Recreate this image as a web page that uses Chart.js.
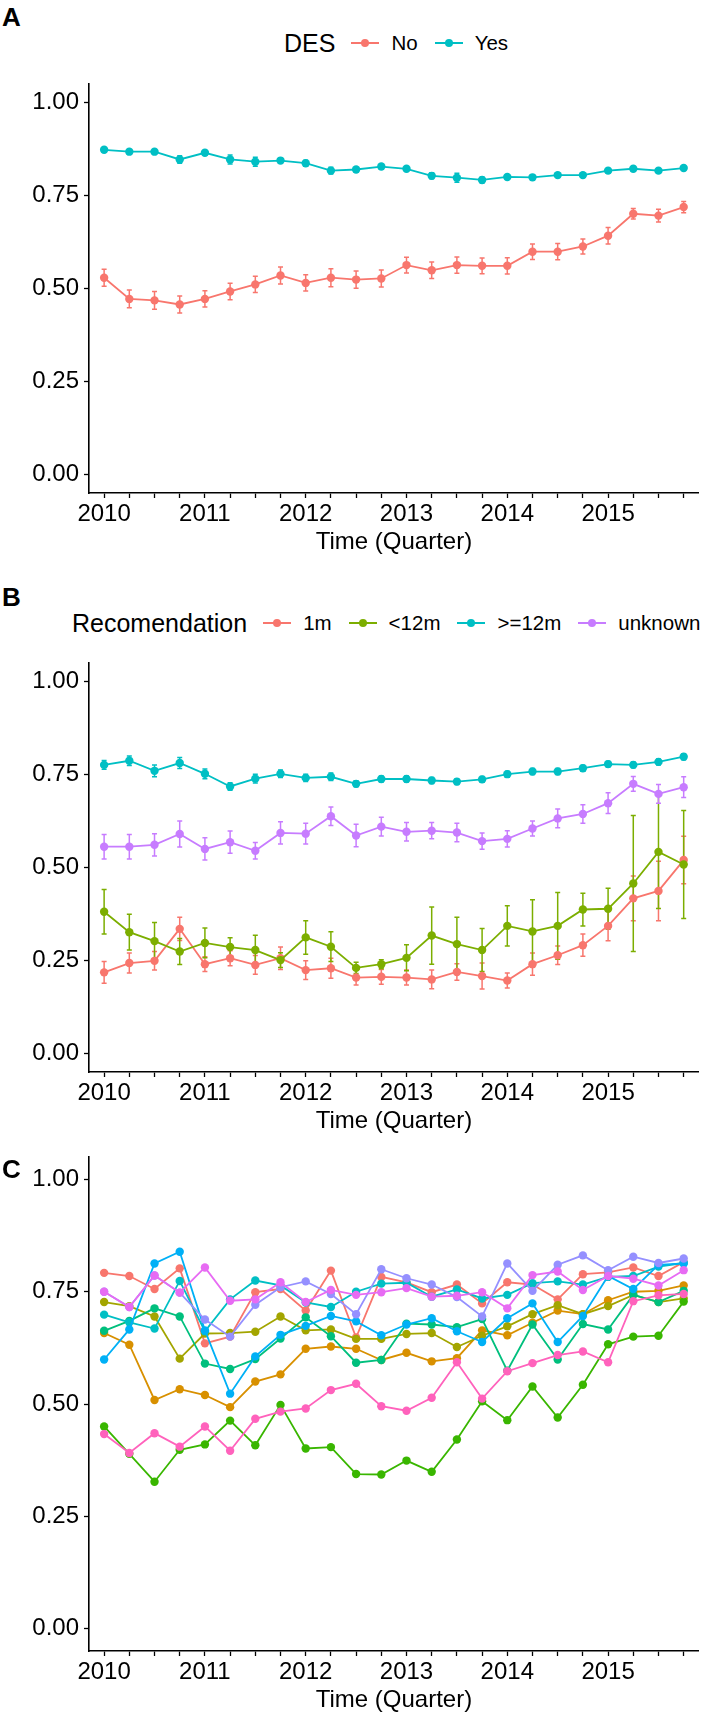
<!DOCTYPE html>
<html>
<head>
<meta charset="utf-8">
<script src="https://cdn.jsdelivr.net/npm/chart.js@4.4.1/dist/chart.umd.min.js"></script>
<style>
  body { margin: 0; background: #fff; font-family: "Liberation Sans", Arial, sans-serif; }
  #page { position: relative; width: 703px; height: 1715px; overflow: hidden; }
  canvas { position: absolute; left: 0; }
  .tag { position: absolute; left: 2px; font-weight: bold; font-size: 26px; line-height: 26px; }
  .legend { position: absolute; display: flex; align-items: center; white-space: nowrap; height: 28px; width: max-content; }
  .legend > span { flex: none; }
  .legend .ttl { font-size: 25px; margin-right: 16px; }
  .legend .key { position: relative; width: 28px; height: 20px; margin-right: 12px; }
  .legend .key i { position: absolute; left: 0; right: 0; top: 9px; height: 2px; }
  .legend .key b { position: absolute; left: 10px; top: 6px; width: 8px; height: 8px; border-radius: 50%; }
  .legend .lab { font-size: 20.5px; margin-right: 17px; }
</style>
</head>
<body>
<div id="page">
  <div class="tag" style="top:4px">A</div>
  <div class="legend" id="legA" style="left:284px;top:29px"></div>
  <canvas id="chartA" width="703" height="579" style="top:0"></canvas>

  <div class="tag" style="top:584px">B</div>
  <div class="legend" id="legB" style="left:72px;top:609px"></div>
  <canvas id="chartB" width="703" height="579" style="top:579px"></canvas>

  <div class="tag" style="top:1156px">C</div>
  <canvas id="chartC" width="703" height="585" style="top:1130px"></canvas>
</div>

<script>
// quarters on the x axis (2010 Q1 .. 2015 Q4)
const quarters = ['2010 Q1', '2010 Q2', '2010 Q3', '2010 Q4', '2011 Q1', '2011 Q2', '2011 Q3', '2011 Q4',
  '2012 Q1', '2012 Q2', '2012 Q3', '2012 Q4', '2013 Q1', '2013 Q2', '2013 Q3', '2013 Q4',
  '2014 Q1', '2014 Q2', '2014 Q3', '2014 Q4', '2015 Q1', '2015 Q2', '2015 Q3', '2015 Q4'];
const xTickLabels = ['2010', '', '', '', '2011', '', '', '', '2012', '', '', '', '2013', '', '', '',
  '2014', '', '', '', '2015', '', '', ''];
const yTicks = [0, 0.25, 0.5, 0.75, 1];

// panel A: DES
const desNames = ['No', 'Yes'];
const desColors = ['#F8766D', '#00BFC4'];
const desNo = [0.529, 0.472, 0.468, 0.457, 0.472, 0.492, 0.511, 0.535, 0.515, 0.529, 0.524, 0.527,
  0.563, 0.549, 0.563, 0.561, 0.561, 0.599, 0.599, 0.613, 0.642, 0.701, 0.696, 0.719];
const desNoErr = [0.023, 0.024, 0.024, 0.023, 0.022, 0.022, 0.022, 0.023, 0.022, 0.024, 0.023, 0.023,
  0.021, 0.022, 0.022, 0.021, 0.022, 0.021, 0.022, 0.020, 0.022, 0.014, 0.017, 0.015];
const desYes = [0.873, 0.868, 0.868, 0.847, 0.865, 0.847, 0.841, 0.844, 0.837, 0.817, 0.820, 0.828,
  0.822, 0.803, 0.798, 0.792, 0.800, 0.799, 0.805, 0.805, 0.817, 0.822, 0.817, 0.824];
const desYesErr = [0.006, 0.006, 0.006, 0.010, 0.006, 0.012, 0.012, 0.006, 0.008, 0.009, 0.006, 0.006,
  0.006, 0.008, 0.012, 0.008, 0.006, 0.006, 0.006, 0.006, 0.006, 0.006, 0.006, 0.006];

// panel B: Recomendation
const recNames = ['1m', '<12m', '>=12m', 'unknown'];
const recColors = ['#F8766D', '#7CAE00', '#00BFC4', '#C77CFF'];
const rec1m = [0.218, 0.243, 0.249, 0.335, 0.240, 0.256, 0.238, 0.256, 0.224, 0.229, 0.204, 0.206,
  0.204, 0.199, 0.219, 0.208, 0.196, 0.240, 0.264, 0.291, 0.343, 0.417, 0.437, 0.520];
const rec1mErr = [0.029, 0.027, 0.025, 0.031, 0.020, 0.020, 0.025, 0.030, 0.025, 0.027, 0.020, 0.020,
  0.020, 0.025, 0.022, 0.035, 0.020, 0.030, 0.025, 0.030, 0.040, 0.060, 0.080, 0.064];
const recLt12 = [0.381, 0.326, 0.302, 0.274, 0.297, 0.286, 0.278, 0.251, 0.312, 0.287, 0.230, 0.240,
  0.257, 0.317, 0.294, 0.278, 0.343, 0.328, 0.343, 0.387, 0.389, 0.457, 0.542, 0.508];
const recLt12Err = [0.060, 0.048, 0.050, 0.035, 0.040, 0.025, 0.040, 0.020, 0.045, 0.040, 0.015, 0.012,
  0.035, 0.077, 0.072, 0.058, 0.054, 0.085, 0.090, 0.044, 0.055, 0.183, 0.152, 0.145];
const recGe12 = [0.776, 0.787, 0.760, 0.781, 0.752, 0.718, 0.739, 0.752, 0.741, 0.744, 0.725, 0.738,
  0.738, 0.734, 0.731, 0.737, 0.751, 0.758, 0.758, 0.767, 0.778, 0.776, 0.784, 0.798];
const recGe12Err = [0.012, 0.013, 0.016, 0.015, 0.013, 0.010, 0.012, 0.010, 0.010, 0.010, 0.008, 0.008,
  0.008, 0.008, 0.008, 0.008, 0.008, 0.008, 0.008, 0.008, 0.008, 0.008, 0.008, 0.008];
const recUnknown = [0.556, 0.556, 0.561, 0.590, 0.550, 0.568, 0.545, 0.593, 0.591, 0.638, 0.586, 0.610,
  0.596, 0.599, 0.594, 0.571, 0.577, 0.605, 0.632, 0.644, 0.673, 0.725, 0.698, 0.716];
const recUnknownErr = [0.033, 0.033, 0.030, 0.035, 0.030, 0.030, 0.022, 0.030, 0.028, 0.025, 0.030, 0.025,
  0.025, 0.022, 0.025, 0.022, 0.022, 0.020, 0.025, 0.025, 0.028, 0.020, 0.025, 0.028];

// panel C: ten groups, no legend
const grpColors = ['#F8766D', '#D89000', '#A3A500', '#39B600', '#00BF7D', '#00BFC4', '#00B0F6', '#9590FF', '#E76BF3', '#FF62BC'];
const grp1 = [0.792, 0.785, 0.756, 0.802, 0.635, 0.650, 0.749, 0.756, 0.708, 0.797, 0.648, 0.783,
  0.771, 0.749, 0.766, 0.724, 0.771, 0.766, 0.733, 0.789, 0.793, 0.804, 0.785, 0.816];
const grp2 = [0.658, 0.632, 0.509, 0.533, 0.520, 0.493, 0.550, 0.566, 0.623, 0.628, 0.623, 0.598,
  0.614, 0.595, 0.602, 0.664, 0.653, 0.681, 0.708, 0.700, 0.731, 0.750, 0.752, 0.764];
const grp3 = [0.727, 0.718, 0.695, 0.601, 0.657, 0.658, 0.661, 0.695, 0.664, 0.666, 0.645, 0.645,
  0.656, 0.658, 0.627, 0.652, 0.673, 0.700, 0.720, 0.700, 0.718, 0.743, 0.727, 0.735];
const grp4 = [0.450, 0.389, 0.327, 0.398, 0.410, 0.463, 0.408, 0.498, 0.401, 0.404, 0.344, 0.343,
  0.374, 0.349, 0.421, 0.506, 0.464, 0.539, 0.470, 0.543, 0.633, 0.650, 0.652, 0.728];
const grp5 = [0.663, 0.685, 0.713, 0.695, 0.590, 0.578, 0.600, 0.646, 0.693, 0.651, 0.592, 0.598,
  0.679, 0.677, 0.671, 0.689, 0.574, 0.677, 0.599, 0.678, 0.666, 0.743, 0.727, 0.752];
const grp6 = [0.699, 0.682, 0.668, 0.774, 0.662, 0.733, 0.775, 0.764, 0.726, 0.716, 0.750, 0.768,
  0.770, 0.739, 0.755, 0.735, 0.743, 0.769, 0.773, 0.766, 0.783, 0.785, 0.806, 0.814];
const grp7 = [0.599, 0.666, 0.813, 0.839, 0.664, 0.523, 0.606, 0.654, 0.674, 0.696, 0.684, 0.653,
  0.677, 0.691, 0.662, 0.638, 0.691, 0.724, 0.638, 0.696, 0.785, 0.756, 0.810, 0.813];
const grp8 = [0.750, 0.716, 0.786, 0.748, 0.688, 0.650, 0.721, 0.760, 0.773, 0.745, 0.700, 0.800,
  0.780, 0.766, 0.738, 0.695, 0.813, 0.752, 0.810, 0.831, 0.798, 0.828, 0.814, 0.824];
const grp9 = [0.750, 0.716, 0.786, 0.748, 0.804, 0.730, 0.733, 0.771, 0.727, 0.754, 0.743, 0.749,
  0.758, 0.739, 0.741, 0.749, 0.713, 0.787, 0.795, 0.754, 0.785, 0.779, 0.764, 0.798];
const grp10 = [0.433, 0.391, 0.435, 0.405, 0.450, 0.396, 0.467, 0.483, 0.490, 0.531, 0.545, 0.495,
  0.485, 0.514, 0.593, 0.512, 0.573, 0.591, 0.609, 0.617, 0.593, 0.729, 0.742, 0.745];

const FONT = '"Liberation Sans", Arial, sans-serif';
Chart.defaults.font.family = FONT;
Chart.defaults.color = '#000';

// vertical error bars, drawn under the lines and points
const errorBars = {
  id: 'errorBars',
  beforeDatasetsDraw(chart) {
    const ctx = chart.ctx;
    const xs = chart.scales.x, ys = chart.scales.y;
    chart.data.datasets.forEach(ds => {
      if (!ds.errors) return;
      ctx.save();
      ctx.strokeStyle = ds.borderColor;
      ctx.lineWidth = 1.5;
      ds.data.forEach((p, i) => {
        const px = xs.getPixelForValue(p.x);
        const lo = ys.getPixelForValue(p.y - ds.errors[i]);
        const hi = ys.getPixelForValue(p.y + ds.errors[i]);
        ctx.beginPath();
        ctx.moveTo(px, lo); ctx.lineTo(px, hi);
        ctx.moveTo(px - 2.5, lo); ctx.lineTo(px + 2.5, lo);
        ctx.moveTo(px - 2.5, hi); ctx.lineTo(px + 2.5, hi);
        ctx.stroke();
      });
      ctx.restore();
    });
  }
};

function toPoints(values) {
  return values.map((v, i) => ({ x: i, y: v }));
}

function makeChart(id, series, plotTop, xAxisHeight, titlePad) {
  const datasets = series.map((s, i) => ({
    label: s.name,
    data: toPoints(s.values),
    errors: s.errors || null,
    borderColor: s.color,
    backgroundColor: s.color,
    pointBackgroundColor: s.color,
    pointBorderWidth: 0,
    pointRadius: 4.2,
    borderWidth: 1.8,
    tension: 0,
    order: -i   // later groups on top, like ggplot
  }));

  const axisGrid = { display: true, drawOnChartArea: false, drawTicks: true, tickLength: 5, tickColor: '#000', tickWidth: 1.3 };
  const axisBorder = { display: true, color: '#000', width: 1.6 };

  return new Chart(document.getElementById(id), {
    type: 'line',
    data: { datasets: datasets },
    plugins: [errorBars],
    options: {
      responsive: false,
      animation: false,
      devicePixelRatio: 1,
      layout: { padding: { top: plotTop, left: 0, right: 0, bottom: 0 } },
      plugins: { legend: { display: false }, tooltip: { enabled: false } },
      scales: {
        x: {
          type: 'linear',
          min: -0.6,
          max: quarters.length - 0.4,
          afterBuildTicks: scale => { scale.ticks = quarters.map((q, i) => ({ value: i })); },
          afterFit: scale => { scale.height = xAxisHeight; },
          ticks: {
            autoSkip: false, maxRotation: 0, padding: 2, color: '#000',
            font: { size: 24 },
            callback: value => xTickLabels[value]
          },
          grid: axisGrid,
          border: axisBorder,
          title: {
            display: true, text: 'Time (Quarter)', color: '#000',
            font: { size: 24 }, padding: { top: 0, bottom: titlePad }
          }
        },
        y: {
          min: -0.05,
          max: 1.05,
          afterBuildTicks: scale => { scale.ticks = yTicks.map(v => ({ value: v })); },
          afterFit: scale => { scale.width = 89; },
          ticks: {
            padding: 5, color: '#000', font: { size: 24 },
            callback: value => value.toFixed(2)
          },
          grid: axisGrid,
          border: axisBorder
        }
      }
    }
  });
}

function makeLegend(id, title, names, colors) {
  const box = document.getElementById(id);
  const t = document.createElement('span');
  t.className = 'ttl';
  t.textContent = title;
  box.appendChild(t);
  names.forEach((n, i) => {
    const key = document.createElement('span');
    key.className = 'key';
    key.innerHTML = '<i style="background:' + colors[i] + '"></i><b style="background:' + colors[i] + '"></b>';
    const lab = document.createElement('span');
    lab.className = 'lab';
    lab.textContent = n;
    box.appendChild(key);
    box.appendChild(lab);
  });
}

makeLegend('legA', 'DES', desNames, desColors);
makeLegend('legB', 'Recomendation', recNames, recColors);

makeChart('chartA', [
  { name: desNames[0], values: desNo, errors: desNoErr, color: desColors[0] },
  { name: desNames[1], values: desYes, errors: desYesErr, color: desColors[1] }
], 84, 86, 22);

makeChart('chartB', [
  { name: recNames[0], values: rec1m, errors: rec1mErr, color: recColors[0] },
  { name: recNames[1], values: recLt12, errors: recLt12Err, color: recColors[1] },
  { name: recNames[2], values: recGe12, errors: recGe12Err, color: recColors[2] },
  { name: recNames[3], values: recUnknown, errors: recUnknownErr, color: recColors[3] }
], 84, 86, 22);

const groups = [grp1, grp2, grp3, grp4, grp5, grp6, grp7, grp8, grp9, grp10];
makeChart('chartC', groups.map((g, i) => ({ name: 'Group ' + (i + 1), values: g, color: grpColors[i] })), 27, 64, 0);
</script>
</body>
</html>
